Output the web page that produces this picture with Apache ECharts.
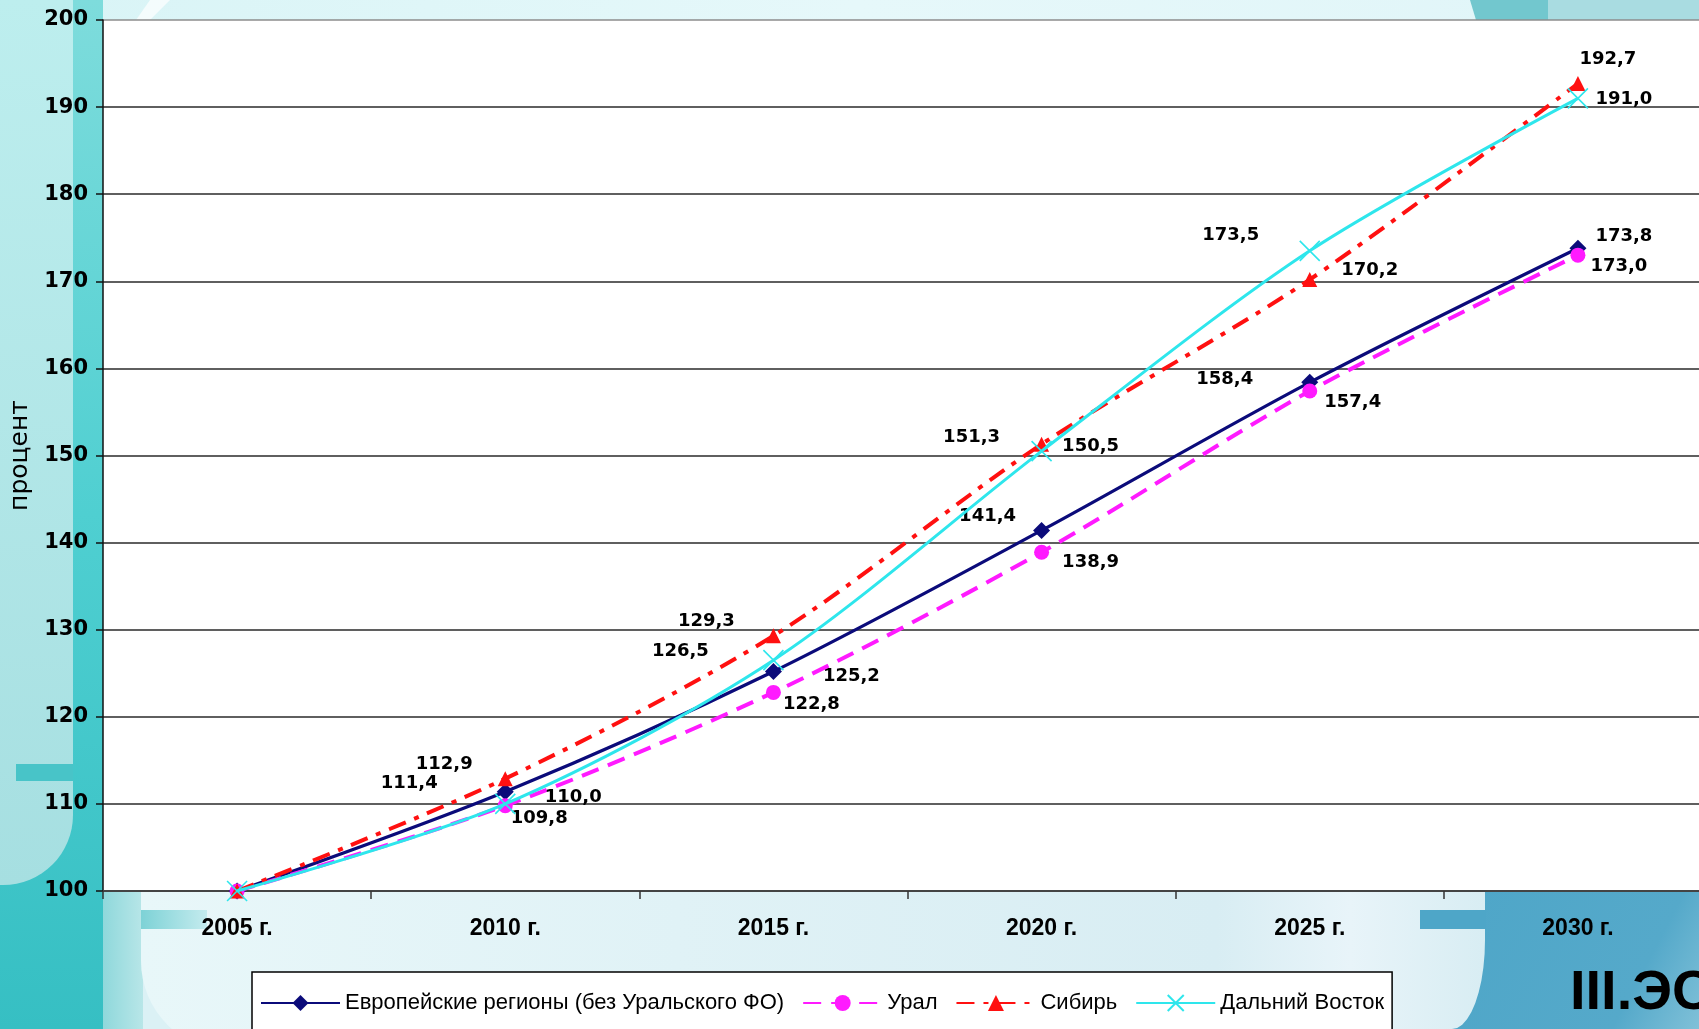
<!DOCTYPE html>
<html><head><meta charset="utf-8">
<script src="https://cdn.jsdelivr.net/npm/echarts@6/dist/echarts.min.js"></script>
<style>html,body{margin:0;padding:0;background:#dbf1f5;overflow:hidden;width:1699px;height:1029px;}#c{width:1712px;height:1029px;}</style>
</head><body><div id="c"></div>
<script>
const categories = ['2005 г.', '2010 г.', '2015 г.', '2020 г.', '2025 г.', '2030 г.'];
const europe  = [100, 111.4, 125.2, 141.4, 158.4, 173.8];
const ural    = [100, 109.8, 122.8, 138.9, 157.4, 173.0];
const siberia = [100, 112.9, 129.3, 151.3, 170.2, 192.7];
const farEast = [100, 110.0, 126.5, 150.5, 173.5, 191.0];
const seriesNames = ['Европейские регионы (без Уральского ФО)', 'Урал', 'Сибирь', 'Дальний Восток'];
const yMin = 100, yMax = 200, yStep = 10;

// label placement (pixel offsets from the point), layout only
const europeOff  = [null, [-96, -8], [78, 5], [-54, -14], [-85, -3], [46, -12]];
const uralOff    = [null, [34, 13], [38, 12], [49, 10], [43, 11], [41, 11]];
const siberiaOff = [null, [-61, -14], [-67, -14], [-70, -7], [60, -9], [30, -24]];
const farEastOff = [null, [68, -7], [-93, -9], [49, -5], [-79, -15], [46, 1]];

const fmt = v => v.toFixed(1).replace('.', ',');
function mk(vals, offs) {
  return vals.map((v, i) => offs[i] ? { value: v, label: { show: true, offset: offs[i] } } : { value: v, label: { show: false } });
}
const labelStyle = { show: true, position: 'inside', color: '#000', fontFamily: 'DejaVu Sans', fontWeight: 'bold', fontSize: 18, formatter: p => fmt(p.value) };
const xPath = 'path://M0,0L10,10M10,0L0,10';

const chart = echarts.init(document.getElementById('c'));
const splitColors = [];
for (let v = yMin; v <= yMax; v += yStep) splitColors.push(v === yMax ? '#8c8c8c' : '#2a2a2a');

// curved left edge of the dark block at bottom right
const blockPts = [[1485, 891], [1712, 891], [1712, 1029], [1452, 1029]];
for (let t = 1; t >= 0; t -= 0.1) {
  const a = t * Math.PI / 2;
  blockPts.push([1485 - 33 * (1 - Math.cos(a)), 940 + 89 * Math.sin(a)]);
}

chart.setOption({
  animation: false,
  backgroundColor: '#dbf1f5',
  grid: { left: 103, right: 0, top: 20, bottom: 138, show: true, backgroundColor: '#ffffff', borderWidth: 0 },
  graphic: [
    { type: 'rect', z: -20, shape: { x: 0, y: 0, width: 1712, height: 20 }, style: { fill: new echarts.graphic.LinearGradient(0, 0, 1, 0, [{ offset: 0, color: '#d8f4f6' }, { offset: 0.5, color: '#e6f8fa' }, { offset: 1, color: '#e0f5f8' }]) } },
    { type: 'polygon', z: -19, shape: { points: [[150, 0], [170, 0], [150, 20], [136, 20]] }, style: { fill: 'rgba(255,255,255,0.7)' } },
    { type: 'polygon', z: -19, shape: { points: [[1470, 0], [1548, 0], [1548, 20], [1476, 20]] }, style: { fill: '#72c7ce' } },
    { type: 'rect', z: -19, shape: { x: 1548, y: 0, width: 164, height: 20 }, style: { fill: '#a9dce1' } },
    { type: 'rect', z: -18, shape: { x: 0, y: 0, width: 103, height: 1029 }, style: { fill: new echarts.graphic.LinearGradient(0, 0, 0, 1, [{ offset: 0, color: '#7edcdc' }, { offset: 0.5, color: '#4fcfd1' }, { offset: 1, color: '#36bfc3' }]) } },
    { type: 'rect', z: -17, shape: { x: 0, y: 0, width: 73, height: 885, r: [0, 0, 70, 0] }, style: { fill: new echarts.graphic.LinearGradient(0, 0, 0, 1, [{ offset: 0, color: '#bdeeee' }, { offset: 1, color: '#a6dfe1' }]) } },
    { type: 'rect', z: -16, shape: { x: 16, y: 764, width: 57, height: 17 }, style: { fill: '#48c4c8' } },
    { type: 'rect', z: -16, shape: { x: 103, y: 891, width: 40, height: 138 }, style: { fill: new echarts.graphic.LinearGradient(0, 0, 1, 0, [{ offset: 0, color: '#8fd8db' }, { offset: 1, color: '#b8e6e8' }]) } },
    { type: 'rect', z: -16, shape: { x: 141, y: 891, width: 1344, height: 160, r: [0, 0, 0, 90] }, style: { fill: new echarts.graphic.LinearGradient(0, 0, 1, 0, [{ offset: 0, color: '#e8f7f9' }, { offset: 0.8, color: '#d8edf3' }, { offset: 0.9, color: '#e8f4f9' }, { offset: 1, color: '#d8edf3' }]) } },
    { type: 'rect', z: -15, shape: { x: 141, y: 910, width: 66, height: 19 }, style: { fill: new echarts.graphic.LinearGradient(0, 0, 1, 0, [{ offset: 0, color: '#7dd2d6' }, { offset: 1, color: '#c4ebee' }]) } },
    { type: 'polygon', z: -15, shape: { points: blockPts }, style: { fill: new echarts.graphic.LinearGradient(0, 0, 1, 1, [{ offset: 0, color: '#4ea6c8' }, { offset: 0.7, color: '#55a9ca' }, { offset: 1, color: '#86c4da' }]) } },
    { type: 'rect', z: -15, shape: { x: 1420, y: 910, width: 66, height: 19 }, style: { fill: '#4ea6c8' } },
    { type: 'text', z: 5, x: 1570, y: 1022, style: { text: 'III.ЭС', fill: '#000', font: 'bold 56px "Liberation Sans"', verticalAlign: 'bottom' } }
  ],
  legend: {
    left: 252, top: 972, orient: 'horizontal',
    padding: [20, 8, 20, 8], itemGap: 18, itemWidth: 79, itemHeight: 20,
    backgroundColor: '#ffffff', borderColor: '#000', borderWidth: 1.5, borderRadius: 0,
    textStyle: { color: '#000', fontFamily: 'Liberation Sans', fontSize: 22 },
    data: seriesNames
  },
  xAxis: {
    type: 'category', data: categories, boundaryGap: true,
    axisLine: { lineStyle: { color: '#444', width: 2 } },
    axisTick: { show: true, length: 8, lineStyle: { color: '#333', width: 1.5 } },
    axisLabel: { color: '#000', fontFamily: 'Liberation Sans', fontWeight: 'bold', fontSize: 23, margin: 26 },
    splitLine: { show: false }
  },
  yAxis: {
    type: 'value', min: yMin, max: yMax, interval: yStep,
    name: 'процент', nameLocation: 'middle', nameGap: 70, nameRotate: 90,
    nameTextStyle: { color: '#000', fontFamily: 'DejaVu Sans', fontSize: 25 },
    axisLine: { show: true, lineStyle: { color: '#111', width: 1.5 } },
    axisTick: { show: true, length: 7, lineStyle: { color: '#111', width: 1.5 } },
    axisLabel: { color: '#000', fontFamily: 'DejaVu Sans', fontWeight: 'bold', fontSize: 21, margin: 15 },
    splitLine: { show: true, lineStyle: { color: splitColors, width: 1.6 } }
  },
  series: [
    { name: seriesNames[0], type: 'line', smooth: 0.3, data: mk(europe, europeOff), symbol: 'diamond', symbolSize: 17,
      lineStyle: { color: '#0b0b7a', width: 3.2 }, itemStyle: { color: '#0b0b7a' }, label: labelStyle, z: 3 },
    { name: seriesNames[1], type: 'line', smooth: 0.3, data: mk(ural, uralOff), symbol: 'circle', symbolSize: 15,
      lineStyle: { color: '#ff1aff', width: 4, type: [18, 10] }, itemStyle: { color: '#ff1aff' }, label: labelStyle, z: 4 },
    { name: seriesNames[2], type: 'line', smooth: 0.3, data: mk(siberia, siberiaOff), symbol: 'triangle', symbolSize: 15,
      lineStyle: { color: '#ff1010', width: 4, type: [18, 9, 5, 9] }, itemStyle: { color: '#ff1010' }, label: labelStyle, z: 5 },
    { name: seriesNames[3], type: 'line', smooth: 0.3, data: mk(farEast, farEastOff), symbol: xPath, symbolSize: 20,
      lineStyle: { color: '#2ee6ec', width: 3 }, itemStyle: { color: '#2ee6ec', borderColor: '#2ee6ec', borderWidth: 1.6 }, label: labelStyle, z: 6 }
  ]
});
</script>
</body></html>
